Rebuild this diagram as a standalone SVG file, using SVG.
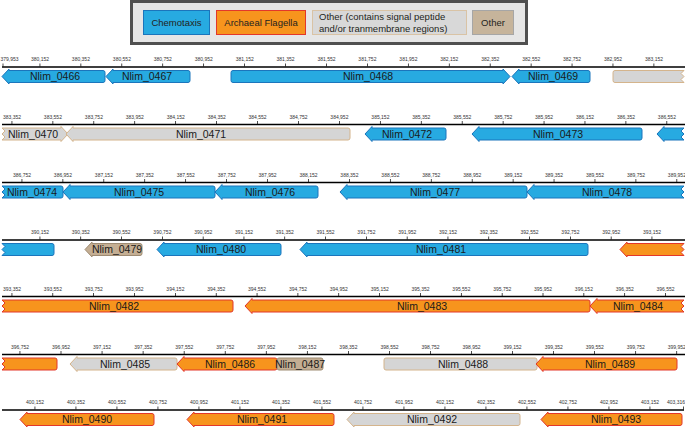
<svg xmlns="http://www.w3.org/2000/svg" width="685" height="428" viewBox="0 0 685 428">
<style>
.chem{fill:#27aae1;stroke:#1b75bc;stroke-width:1}
.flag{fill:#f7941d;stroke:#e3372a;stroke-width:1}
.sp{fill:#d5d5d5;stroke:#d4b48c;stroke-width:1}
.oth{fill:#c4ae93;stroke:#9e8b73;stroke-width:1}
.gl{font-family:"Liberation Sans",Arial,sans-serif;font-size:10.5px;fill:#1a1a1a;text-anchor:middle}
.lg{font-family:"Liberation Sans",Arial,sans-serif;font-size:9.5px;fill:#231f20}
.tk{font-family:"Liberation Sans",Arial,sans-serif;font-size:5px;fill:#333;text-anchor:middle}
.ax{stroke:#000;stroke-width:1.6;fill:none}
.tm{stroke:#000;stroke-width:3;stroke-dasharray:0.7 40.23;fill:none}
</style>

<g id="legend">
<rect x="131.5" y="1.5" width="395" height="42" fill="#e6e6e6" stroke="#505050" stroke-width="3"/>
<rect x="143.5" y="10.5" width="66" height="24" class="chem"/>
<text x="176.5" y="26" class="lg" text-anchor="middle">Chemotaxis</text>
<rect x="216.5" y="10.5" width="89" height="24" class="flag"/>
<text x="261" y="26" class="lg" text-anchor="middle">Archaeal Flagella</text>
<rect x="312.5" y="10.5" width="154" height="24" fill="#d8d8d8" stroke="#d9c3a5"/>
<text x="319" y="20" class="lg">Other (contains signal peptide</text>
<text x="319" y="32" class="lg">and/or tranmembrane regions)</text>
<rect x="472.5" y="10.5" width="41" height="24" fill="#c6b49b" stroke="#a6a6a6"/>
<text x="493" y="26" class="lg" text-anchor="middle">Other</text>
</g>

<g id="axes">
<path class="ax" d="M2 67H685M2 124.5H685M2 182.5H685M2 240H685M2 296.5H685M2 354.5H685M2 410H684"/>
<line class="tm" x1="39.6" y1="65" x2="685" y2="65"/>
<line x1="3" y1="63.5" x2="3" y2="66.5" stroke="#000" stroke-width="0.7"/>
<line class="tm" x1="11.6" y1="122.5" x2="685" y2="122.5"/>
<line class="tm" x1="21.6" y1="180.5" x2="685" y2="180.5"/>
<line class="tm" x1="39.6" y1="238" x2="685" y2="238" style="stroke-dasharray:0.7 40.1"/>
<line class="tm" x1="11.6" y1="294.5" x2="685" y2="294.5" style="stroke-dasharray:0.7 40.15"/>
<line class="tm" x1="19.6" y1="352.5" x2="685" y2="352.5" style="stroke-dasharray:0.7 40.35"/>
<line class="tm" x1="34.6" y1="408" x2="685" y2="408" style="stroke-dasharray:0.7 40.3"/>
<line x1="683.5" y1="406.5" x2="683.5" y2="409.5" stroke="#000" stroke-width="0.7"/>
</g>

<g id="ticklabels">
<text class="tk" x="0.5" y="61" style="text-anchor:start">379,953</text>
<text class="tk" x="40" y="61">380,152</text>
<text class="tk" x="80.9" y="61">380,352</text>
<text class="tk" x="121.9" y="61">380,552</text>
<text class="tk" x="162.8" y="61">380,752</text>
<text class="tk" x="203.7" y="61">380,952</text>
<text class="tk" x="244.7" y="61">381,152</text>
<text class="tk" x="285.6" y="61">381,352</text>
<text class="tk" x="326.5" y="61">381,552</text>
<text class="tk" x="367.4" y="61">381,752</text>
<text class="tk" x="408.4" y="61">381,952</text>
<text class="tk" x="449.3" y="61">382,152</text>
<text class="tk" x="490.2" y="61">382,352</text>
<text class="tk" x="531.2" y="61">382,552</text>
<text class="tk" x="572.1" y="61">382,752</text>
<text class="tk" x="613" y="61">382,952</text>
<text class="tk" x="654" y="61">383,152</text>

<text class="tk" x="12" y="118.5">383,352</text>
<text class="tk" x="52.9" y="118.5">383,552</text>
<text class="tk" x="93.9" y="118.5">383,752</text>
<text class="tk" x="134.8" y="118.5">383,952</text>
<text class="tk" x="175.7" y="118.5">384,152</text>
<text class="tk" x="216.7" y="118.5">384,352</text>
<text class="tk" x="257.6" y="118.5">384,552</text>
<text class="tk" x="298.5" y="118.5">384,752</text>
<text class="tk" x="339.4" y="118.5">384,952</text>
<text class="tk" x="380.4" y="118.5">385,152</text>
<text class="tk" x="421.3" y="118.5">385,352</text>
<text class="tk" x="462.2" y="118.5">385,552</text>
<text class="tk" x="503.2" y="118.5">385,752</text>
<text class="tk" x="544.1" y="118.5">385,952</text>
<text class="tk" x="585" y="118.5">386,152</text>
<text class="tk" x="626" y="118.5">386,352</text>
<text class="tk" x="666.9" y="118.5">386,552</text>

<text class="tk" x="22" y="176.5">386,752</text>
<text class="tk" x="62.9" y="176.5">386,952</text>
<text class="tk" x="103.9" y="176.5">387,152</text>
<text class="tk" x="144.8" y="176.5">387,352</text>
<text class="tk" x="185.7" y="176.5">387,552</text>
<text class="tk" x="226.7" y="176.5">387,752</text>
<text class="tk" x="267.6" y="176.5">387,952</text>
<text class="tk" x="308.5" y="176.5">388,152</text>
<text class="tk" x="349.4" y="176.5">388,352</text>
<text class="tk" x="390.4" y="176.5">388,552</text>
<text class="tk" x="431.3" y="176.5">388,752</text>
<text class="tk" x="472.2" y="176.5">388,952</text>
<text class="tk" x="513.2" y="176.5">389,152</text>
<text class="tk" x="554.1" y="176.5">389,352</text>
<text class="tk" x="595" y="176.5">389,552</text>
<text class="tk" x="636" y="176.5">389,752</text>
<text class="tk" x="676.9" y="176.5">389,952</text>

<text class="tk" x="40" y="234">390,152</text>
<text class="tk" x="80.8" y="234">390,352</text>
<text class="tk" x="121.6" y="234">390,552</text>
<text class="tk" x="162.4" y="234">390,752</text>
<text class="tk" x="203.2" y="234">390,952</text>
<text class="tk" x="244" y="234">391,152</text>
<text class="tk" x="284.8" y="234">391,352</text>
<text class="tk" x="325.6" y="234">391,552</text>
<text class="tk" x="366.4" y="234">391,752</text>
<text class="tk" x="407.2" y="234">391,952</text>
<text class="tk" x="448" y="234">392,152</text>
<text class="tk" x="488.8" y="234">392,352</text>
<text class="tk" x="529.6" y="234">392,552</text>
<text class="tk" x="570.4" y="234">392,752</text>
<text class="tk" x="611.2" y="234">392,952</text>
<text class="tk" x="652" y="234">393,152</text>

<text class="tk" x="12" y="290.5">393,352</text>
<text class="tk" x="52.9" y="290.5">393,552</text>
<text class="tk" x="93.7" y="290.5">393,752</text>
<text class="tk" x="134.6" y="290.5">393,952</text>
<text class="tk" x="175.4" y="290.5">394,152</text>
<text class="tk" x="216.3" y="290.5">394,352</text>
<text class="tk" x="257.1" y="290.5">394,552</text>
<text class="tk" x="298" y="290.5">394,752</text>
<text class="tk" x="338.8" y="290.5">394,952</text>
<text class="tk" x="379.7" y="290.5">395,152</text>
<text class="tk" x="420.5" y="290.5">395,352</text>
<text class="tk" x="461.4" y="290.5">395,552</text>
<text class="tk" x="502.2" y="290.5">395,752</text>
<text class="tk" x="543.1" y="290.5">395,952</text>
<text class="tk" x="583.9" y="290.5">396,152</text>
<text class="tk" x="624.8" y="290.5">396,352</text>
<text class="tk" x="665.6" y="290.5">396,552</text>

<text class="tk" x="20" y="348.5">396,752</text>
<text class="tk" x="61.1" y="348.5">396,952</text>
<text class="tk" x="102.1" y="348.5">397,152</text>
<text class="tk" x="143.2" y="348.5">397,352</text>
<text class="tk" x="184.2" y="348.5">397,552</text>
<text class="tk" x="225.3" y="348.5">397,752</text>
<text class="tk" x="266.3" y="348.5">397,952</text>
<text class="tk" x="307.4" y="348.5">398,152</text>
<text class="tk" x="348.4" y="348.5">398,352</text>
<text class="tk" x="389.5" y="348.5">398,552</text>
<text class="tk" x="430.5" y="348.5">398,752</text>
<text class="tk" x="471.6" y="348.5">398,952</text>
<text class="tk" x="512.6" y="348.5">399,152</text>
<text class="tk" x="553.7" y="348.5">399,352</text>
<text class="tk" x="594.7" y="348.5">399,552</text>
<text class="tk" x="635.8" y="348.5">399,752</text>
<text class="tk" x="676.8" y="348.5">399,952</text>

<text class="tk" x="35" y="404">400,152</text>
<text class="tk" x="76" y="404">400,352</text>
<text class="tk" x="117" y="404">400,552</text>
<text class="tk" x="158" y="404">400,752</text>
<text class="tk" x="199" y="404">400,952</text>
<text class="tk" x="240" y="404">401,152</text>
<text class="tk" x="281" y="404">401,352</text>
<text class="tk" x="322" y="404">401,552</text>
<text class="tk" x="363" y="404">401,752</text>
<text class="tk" x="404" y="404">401,952</text>
<text class="tk" x="445" y="404">402,152</text>
<text class="tk" x="486" y="404">402,352</text>
<text class="tk" x="527" y="404">402,552</text>
<text class="tk" x="568" y="404">402,752</text>
<text class="tk" x="609" y="404">402,952</text>
<text class="tk" x="650" y="404">403,152</text>
<text class="tk" x="685" y="404" style="text-anchor:end">403,316</text>
</g>

<!-- Row 1 -->
<g id="Nlim_0466"><path class="chem" d="M2 76.5l7 -7.5v1.5h94q2 0 2 2v8q0 2 -2 2h-94v1.5z"/><text class="gl" x="55" y="80.2">Nlim_0466</text></g>
<g id="Nlim_0467"><path class="chem" d="M106 76.5l7 -7.5v1.5h75q2 0 2 2v8q0 2 -2 2h-75v1.5z"/><text class="gl" x="147" y="80.2">Nlim_0467</text></g>
<g id="Nlim_0468"><path class="chem" d="M510 76.5l-7 -7.5v1.5h-270q-2 0 -2 2v8q0 2 2 2h270v1.5z"/><text class="gl" x="368" y="80.2">Nlim_0468</text></g>
<g id="Nlim_0469"><path class="chem" d="M512 76.5l7 -7.5v1.5h69q2 0 2 2v8q0 2 -2 2h-69v1.5z"/><text class="gl" x="553" y="80.2">Nlim_0469</text></g>
<g id="Nlim_0470">
<path class="sp" d="M615 70.5H684l-3 3l3 3l-3 3l3 3H615q-2 0 -2 -2v-8q0 -2 2 -2z"/>
<path class="sp" d="M68 134l-7 -7.5v1.5H2l3 3l-3 3l3 3l-3 3H61v1.5z"/>
<text class="gl" x="33" y="137.7">Nlim_0470</text>
</g>

<!-- Row 2 -->
<g id="Nlim_0471"><path class="sp" d="M66 134l7 -7.5v1.5h275q2 0 2 2v8q0 2 -2 2h-275v1.5z"/><text class="gl" x="201" y="137.7">Nlim_0471</text></g>
<g id="Nlim_0472"><path class="chem" d="M365 134l7 -7.5v1.5h72q2 0 2 2v8q0 2 -2 2h-72v1.5z"/><text class="gl" x="407" y="137.7">Nlim_0472</text></g>
<g id="Nlim_0473"><path class="chem" d="M472 134l7 -7.5v1.5h161q2 0 2 2v8q0 2 -2 2h-161v1.5z"/><text class="gl" x="558" y="137.7">Nlim_0473</text></g>
<g id="Nlim_0474">
<path class="chem" d="M657 134l7 -7.5v1.5H684l-3 3l3 3l-3 3l3 3H664v1.5z"/>
<path class="chem" d="M2 186H61q2 0 2 2v8q0 2 -2 2H2l3 -3l-3 -3l3 -3l-3 -3z"/>
<text class="gl" x="32" y="195.7">Nlim_0474</text>
</g>

<!-- Row 3 -->
<g id="Nlim_0475"><path class="chem" d="M63 192l7 -7.5v1.5h143q2 0 2 2v8q0 2 -2 2h-143v1.5z"/><text class="gl" x="139" y="195.7">Nlim_0475</text></g>
<g id="Nlim_0476"><path class="chem" d="M215 192l7 -7.5v1.5h94q2 0 2 2v8q0 2 -2 2h-94v1.5z"/><text class="gl" x="270" y="195.7">Nlim_0476</text></g>
<g id="Nlim_0477"><path class="chem" d="M340 192l7 -7.5v1.5h178q2 0 2 2v8q0 2 -2 2h-178v1.5z"/><text class="gl" x="435" y="195.7">Nlim_0477</text></g>
<g id="Nlim_0478">
<path class="chem" d="M527 192l7 -7.5v1.5H684l-3 3l3 3l-3 3l3 3H534v1.5z"/>
<path class="chem" d="M2 243.5H52q2 0 2 2v8q0 2 -2 2H2l3 -3l-3 -3l3 -3l-3 -3z"/>
<text class="gl" x="607" y="195.7">Nlim_0478</text>
</g>

<!-- Row 4 -->
<g id="Nlim_0479"><path class="oth" d="M85 249.5l7 -7.5v1.5h48q2 0 2 2v8q0 2 -2 2h-48v1.5z"/><text class="gl" x="117" y="253.2">Nlim_0479</text></g>
<g id="Nlim_0480"><path class="chem" d="M157 249.5l7 -7.5v1.5h115q2 0 2 2v8q0 2 -2 2h-115v1.5z"/><text class="gl" x="221" y="253.2">Nlim_0480</text></g>
<g id="Nlim_0481"><path class="chem" d="M300 249.5l7 -7.5v1.5h279q2 0 2 2v8q0 2 -2 2h-279v1.5z"/><text class="gl" x="441" y="253.2">Nlim_0481</text></g>
<g id="Nlim_0482">
<path class="flag" d="M620 249.5l7 -7.5v1.5H684l-3 3l3 3l-3 3l3 3H627v1.5z"/>
<path class="flag" d="M2 300H231q2 0 2 2v8q0 2 -2 2H2l3 -3l-3 -3l3 -3l-3 -3z"/>
<text class="gl" x="114" y="309.7">Nlim_0482</text>
</g>

<!-- Row 5 -->
<g id="Nlim_0483"><path class="flag" d="M245 306l7 -7.5v1.5h336q2 0 2 2v8q0 2 -2 2h-336v1.5z"/><text class="gl" x="422" y="309.7">Nlim_0483</text></g>
<g id="Nlim_0484">
<path class="flag" d="M590 306l7 -7.5v1.5H684l-3 3l3 3l-3 3l3 3H597v1.5z"/>
<path class="flag" d="M2 358H55q2 0 2 2v8q0 2 -2 2H2l3 -3l-3 -3l3 -3l-3 -3z"/>
<text class="gl" x="638" y="309.7">Nlim_0484</text>
</g>

<!-- Row 6 -->
<g id="Nlim_0485"><path class="sp" d="M70 364l7 -7.5v1.5h98q2 0 2 2v8q0 2 -2 2h-98v1.5z"/><text class="gl" x="125" y="367.7">Nlim_0485</text></g>
<g id="Nlim_0486"><path class="flag" d="M177 364l7 -7.5v1.5h91q2 0 2 2v8q0 2 -2 2h-91v1.5z"/><text class="gl" x="230" y="367.7">Nlim_0486</text></g>
<g id="Nlim_0487"><path class="oth" d="M279 358H321q2 0 2 2v8q0 2 -2 2H279q-2 0 -2 -2v-8q0 -2 2 -2z"/><text class="gl" x="300" y="367.7">Nlim_0487</text></g>
<g id="Nlim_0488"><path class="sp" d="M386 358H535q2 0 2 2v8q0 2 -2 2H386q-2 0 -2 -2v-8q0 -2 2 -2z"/><text class="gl" x="463" y="367.7">Nlim_0488</text></g>
<g id="Nlim_0489"><path class="flag" d="M536 364l7 -7.5v1.5h132q2 0 2 2v8q0 2 -2 2h-132v1.5z"/><text class="gl" x="610" y="367.7">Nlim_0489</text></g>

<!-- Row 7 -->
<g id="Nlim_0490"><path class="flag" d="M20 419.5l7 -7.5v1.5h125q2 0 2 2v8q0 2 -2 2h-125v1.5z"/><text class="gl" x="87" y="423.2">Nlim_0490</text></g>
<g id="Nlim_0491"><path class="flag" d="M187 419.5l7 -7.5v1.5h138q2 0 2 2v8q0 2 -2 2h-138v1.5z"/><text class="gl" x="262" y="423.2">Nlim_0491</text></g>
<g id="Nlim_0492"><path class="sp" d="M347 419.5l7 -7.5v1.5h164q2 0 2 2v8q0 2 -2 2h-164v1.5z"/><text class="gl" x="432" y="423.2">Nlim_0492</text></g>
<g id="Nlim_0493"><path class="flag" d="M541 419.5l7 -7.5v1.5h132q2 0 2 2v8q0 2 -2 2h-132v1.5z"/><text class="gl" x="616" y="423.2">Nlim_0493</text></g>
</svg>
